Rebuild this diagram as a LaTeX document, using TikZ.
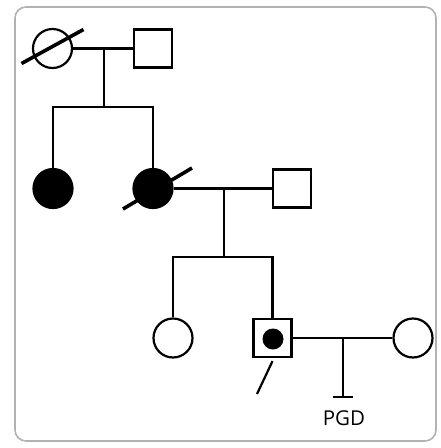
\documentclass[tikz,border=0pt]{standalone}
\usepackage{fontspec}
\setmainfont{Open Sans}
\begin{document}
\begin{tikzpicture}[x=1pt,y=-1pt,
  ln/.style={line width=2.2pt},
  fem/.style={circle, draw, line width=2.2pt, minimum size=39pt, inner sep=0pt},
  mal/.style={rectangle, draw, line width=2.2pt, minimum size=38pt, inner sep=0pt},
  aff/.style={fill=black},
  dec/.style={line width=3.6pt},
  frame/.style={draw=black!30, line width=1.6pt, rounded corners=11pt},
  dot/.style={circle, fill=black, minimum size=21pt, inner sep=0pt}]
\useasboundingbox (0,0) rectangle (441,448);
\draw[frame] (15,7) rectangle (436,441);
% generation I
\node[fem] (I1) at (52.5,48.5) {};
\node[mal] (I2) at (153,48.5) {};
\draw[ln] (I1) -- (I2);
\draw[dec] ([shift={(-31,15)}]I1.center) -- ([shift={(31,-19)}]I1.center);
\coordinate (m1) at (104,48.5);
\coordinate (s1) at (104,107);
\draw[ln] (m1) -- (s1);
% generation II
\node[fem,aff] (II1) at (53,188.5) {};
\node[fem,aff] (II2) at (153,188.5) {};
\node[mal] (II3) at (292,188.5) {};
\draw[ln] (II1.north) |- (s1) -| (II2.north);
\draw[dec] ([shift={(-30,20.5)}]II2.center) -- ([shift={(39,-20.5)}]II2.center);
\draw[ln] (II2) -- (II3);
\coordinate (m2) at (224,188.5);
\coordinate (s2) at (224,257);
\draw[ln] (m2) -- (s2);
% generation III
\node[fem] (III1) at (173,338) {};
\node[mal] (III2) at (272.5,338) {};
\node[dot] (c) at (273,339) {};
\node[fem] (III3) at (413,338) {};
\draw[ln] (III1.north) |- (s2) -| (III2.north);
\draw[ln] (III2) -- (III3);
\coordinate (m3) at (343,338);
\coordinate (p) at (343,397);
\coordinate (pl) at (333,397);
\coordinate (pr) at (353,397);
\draw[ln] (m3) -- (p);
\draw[ln] (pl) -- (pr);
\coordinate (pa) at (257,394);
\draw[ln] ([shift={(0,3)}]III2.south) -- (pa);
\node[font=\fontsize{20.5}{24}\selectfont] (pgd) at (344,418) {PGD};
\end{tikzpicture}
\end{document}
